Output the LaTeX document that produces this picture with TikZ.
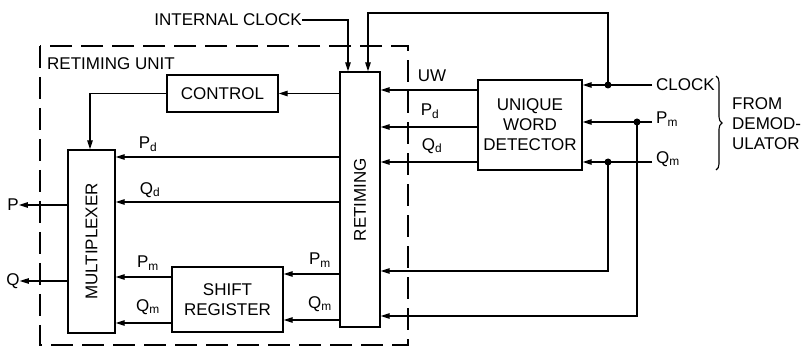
\documentclass[tikz,border=0pt]{standalone}
\usepackage{fontspec}
\setmainfont{Liberation Sans}
\usetikzlibrary{arrows.meta,decorations.pathreplacing}
\begin{document}
\begin{tikzpicture}[x=1pt,y=-1pt,
  every node/.style={font=\fontsize{17}{20}\selectfont, inner sep=0pt},
  blk/.style={draw, line width=1.4pt, minimum width=#1},
  wire/.style={line width=1.2pt},
  arr/.style={wire, -{Triangle[length=9pt,width=5.5pt]}},
  dot/.style={circle, fill=black, minimum size=7pt},
  inlab/.style={anchor=west, inner xsep=4pt}]
\useasboundingbox (0,0) rectangle (803,352);
% unit box
\draw[line width=1.4pt, dash pattern=on 22pt off 9pt] (40,46) rectangle (408,345);
\node[anchor=west] (unit) at (47,64) {RETIMING UNIT};
% blocks
\node[blk=40, minimum height=255pt] (ret) at (360,199.5) {};
\node[rotate=90] (retl) at (ret.center) {RETIMING};
\node[blk=111, minimum height=37pt] (ctl) at (222.5,93.5) {CONTROL};
\node[blk=47, minimum height=183pt] (mux) at (91.5,241.5) {};
\node[rotate=90] (muxl) at (mux.center) {MULTIPLEXER};
\node[blk=111, minimum height=65pt, align=center] (sr) at (227.5,299.5) {SHIFT\\REGISTER};
\node[blk=104, minimum height=90pt, align=center] (uwd) at (530,125) {UNIQUE\\WORD\\DETECTOR};
% y levels
\coordinate (yPd) at (0,157);
\coordinate (yQd) at (0,202);
\coordinate (ySP) at (0,274);
\coordinate (ySQ) at (0,320);
\coordinate (yMP) at (0,277);
\coordinate (yMQ) at (0,323);
\coordinate (yUW) at (0,90);
\coordinate (yUP) at (0,127);
\coordinate (yUQ) at (0,162);
\coordinate (yP) at (0,205);
\coordinate (yQ) at (0,281);
% control
\draw[arr] (ret.west |- ctl.east) -- (ctl.east);
\coordinate (cturn) at (90,93.5);
\draw[arr] (ctl.west) -- (cturn) -- (cturn |- mux.north);
% retiming -> mux
\draw[arr] (ret.west |- yPd) -- (mux.east |- yPd);
\node (lPd) at (148,144) {P$_\mathrm{d}$};
\draw[arr] (ret.west |- yQd) -- (mux.east |- yQd);
\node (lQd) at (150,190) {Q$_\mathrm{d}$};
% retiming -> shift register
\draw[arr] (ret.west |- ySP) -- (sr.east |- ySP);
\node (lSP) at (320,260) {P$_\mathrm{m}$};
\draw[arr] (ret.west |- ySQ) -- (sr.east |- ySQ);
\node (lSQ) at (320,304) {Q$_\mathrm{m}$};
% shift register -> mux
\draw[arr] (sr.west |- yMP) -- (mux.east |- yMP);
\node (lMP) at (148,263) {P$_\mathrm{m}$};
\draw[arr] (sr.west |- yMQ) -- (mux.east |- yMQ);
\node (lMQ) at (148,307) {Q$_\mathrm{m}$};
% outputs
\node (P) at (13,205) {P};
\node (Q) at (13,281) {Q};
\draw[arr] (mux.west |- yP) -- (P.east);
\draw[arr] (mux.west |- yQ) -- (Q.east);
% UWD -> retiming
\draw[arr] (uwd.west |- yUW) -- (ret.east |- yUW);
\node (lUW) at (432,76) {UW};
\draw[arr] (uwd.west |- yUP) -- (ret.east |- yUP);
\node (lUP) at (430,111) {P$_\mathrm{d}$};
\draw[arr] (uwd.west |- yUQ) -- (ret.east |- yUQ);
\node (lUQ) at (432,146) {Q$_\mathrm{d}$};
% inputs
\node[inlab] (clk) at (652,85) {CLOCK};
\node[inlab] (pm) at (652,119) {P$_\mathrm{m}$};
\node[inlab] (qm) at (652,159) {Q$_\mathrm{m}$};
\node[dot] (dc) at (608,85) {};
\node[dot] (dp) at (637,122) {};
\node[dot] (dq) at (608,162) {};
\draw[arr] (clk.west) -- (uwd.east |- clk.west);
\draw[arr] (pm.west |- dp) -- (uwd.east |- dp);
\draw[arr] (qm.west |- dq) -- (uwd.east |- dq);
% clock to retiming
\coordinate (ctop) at (608,13);
\coordinate (cdown) at (368,13);
\draw[arr] (dc.center) -- (ctop) -- (cdown) -- (cdown |- ret.north);
\node[anchor=east] (ic) at (302,20) {INTERNAL CLOCK};
\coordinate (icturn) at (348,20);
\draw[arr] (ic.east) -- (icturn) -- (icturn |- ret.north);
% Pm, Qm to retiming
\coordinate (qbot) at (608,271);
\coordinate (pbot) at (637,316);
\draw[arr] (dq.center) -- (qbot) -- (ret.east |- qbot);
\draw[arr] (dp.center) -- (pbot) -- (ret.east |- pbot);
% brace
\draw[line width=1.1pt, decorate, decoration={brace, amplitude=6pt}] (716,76) -- (716,170);
\node[anchor=west, align=left] (from) at (732,124) {FROM\\DEMOD-\\ULATOR};
\end{tikzpicture}
\end{document}
